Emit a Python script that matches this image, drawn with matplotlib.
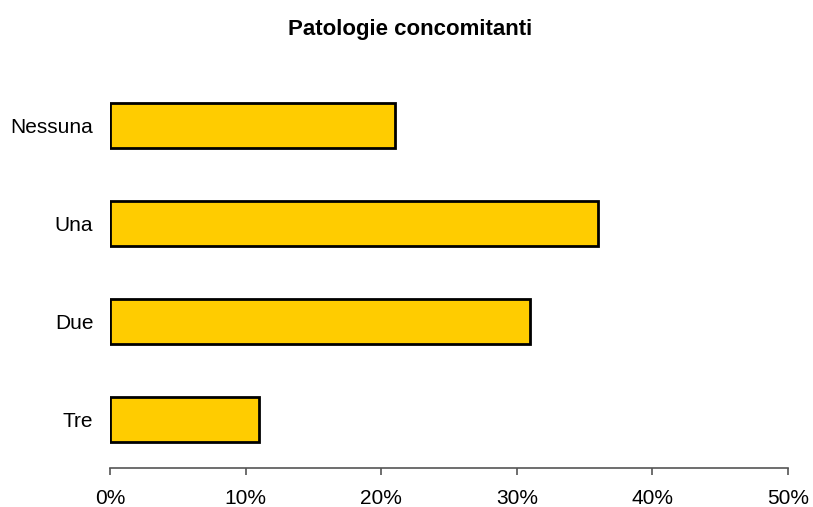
import matplotlib.pyplot as plt

categories = ["Nessuna", "Una", "Due", "Tre"]
values = [21, 36, 31, 11]
xticks = [0, 10, 20, 30, 40, 50]
xtick_labels = ["0%", "10%", "20%", "30%", "40%", "50%"]

plt.rcParams['font.family'] = ['Liberation Sans', 'DejaVu Sans']

fig = plt.figure(figsize=(8.13, 5.07), dpi=100)
W, H = 813, 507
ax = fig.add_axes([110 / W, (H - 468) / H, (788 - 110) / W, (468 - 80) / H])

ypos = list(range(len(categories) - 1, -1, -1))
ax.barh(ypos, values, height=0.46, color='#FFCC00', edgecolor='black', linewidth=2)

ax.set_xlim(0, 50)
ax.set_ylim(-0.49, 3.46)
ax.set_xticks(xticks)
ax.set_xticklabels(xtick_labels, fontsize=15)
ax.set_yticks(ypos)
ax.set_yticklabels(categories, fontsize=15)

for s in ['top', 'right', 'left']:
    ax.spines[s].set_visible(False)
ax.spines['bottom'].set_color('#555555')
ax.spines['bottom'].set_linewidth(1.2)
ax.tick_params(axis='x', length=5, width=1.2, color='#555555', pad=10)
ax.tick_params(axis='y', length=0, pad=12)

fig.text(410 / W, 1 - 30 / H, "Patologie concomitanti", ha='center', va='center',
         fontsize=16, fontweight='bold')

fig.savefig("out.png", dpi=100)
